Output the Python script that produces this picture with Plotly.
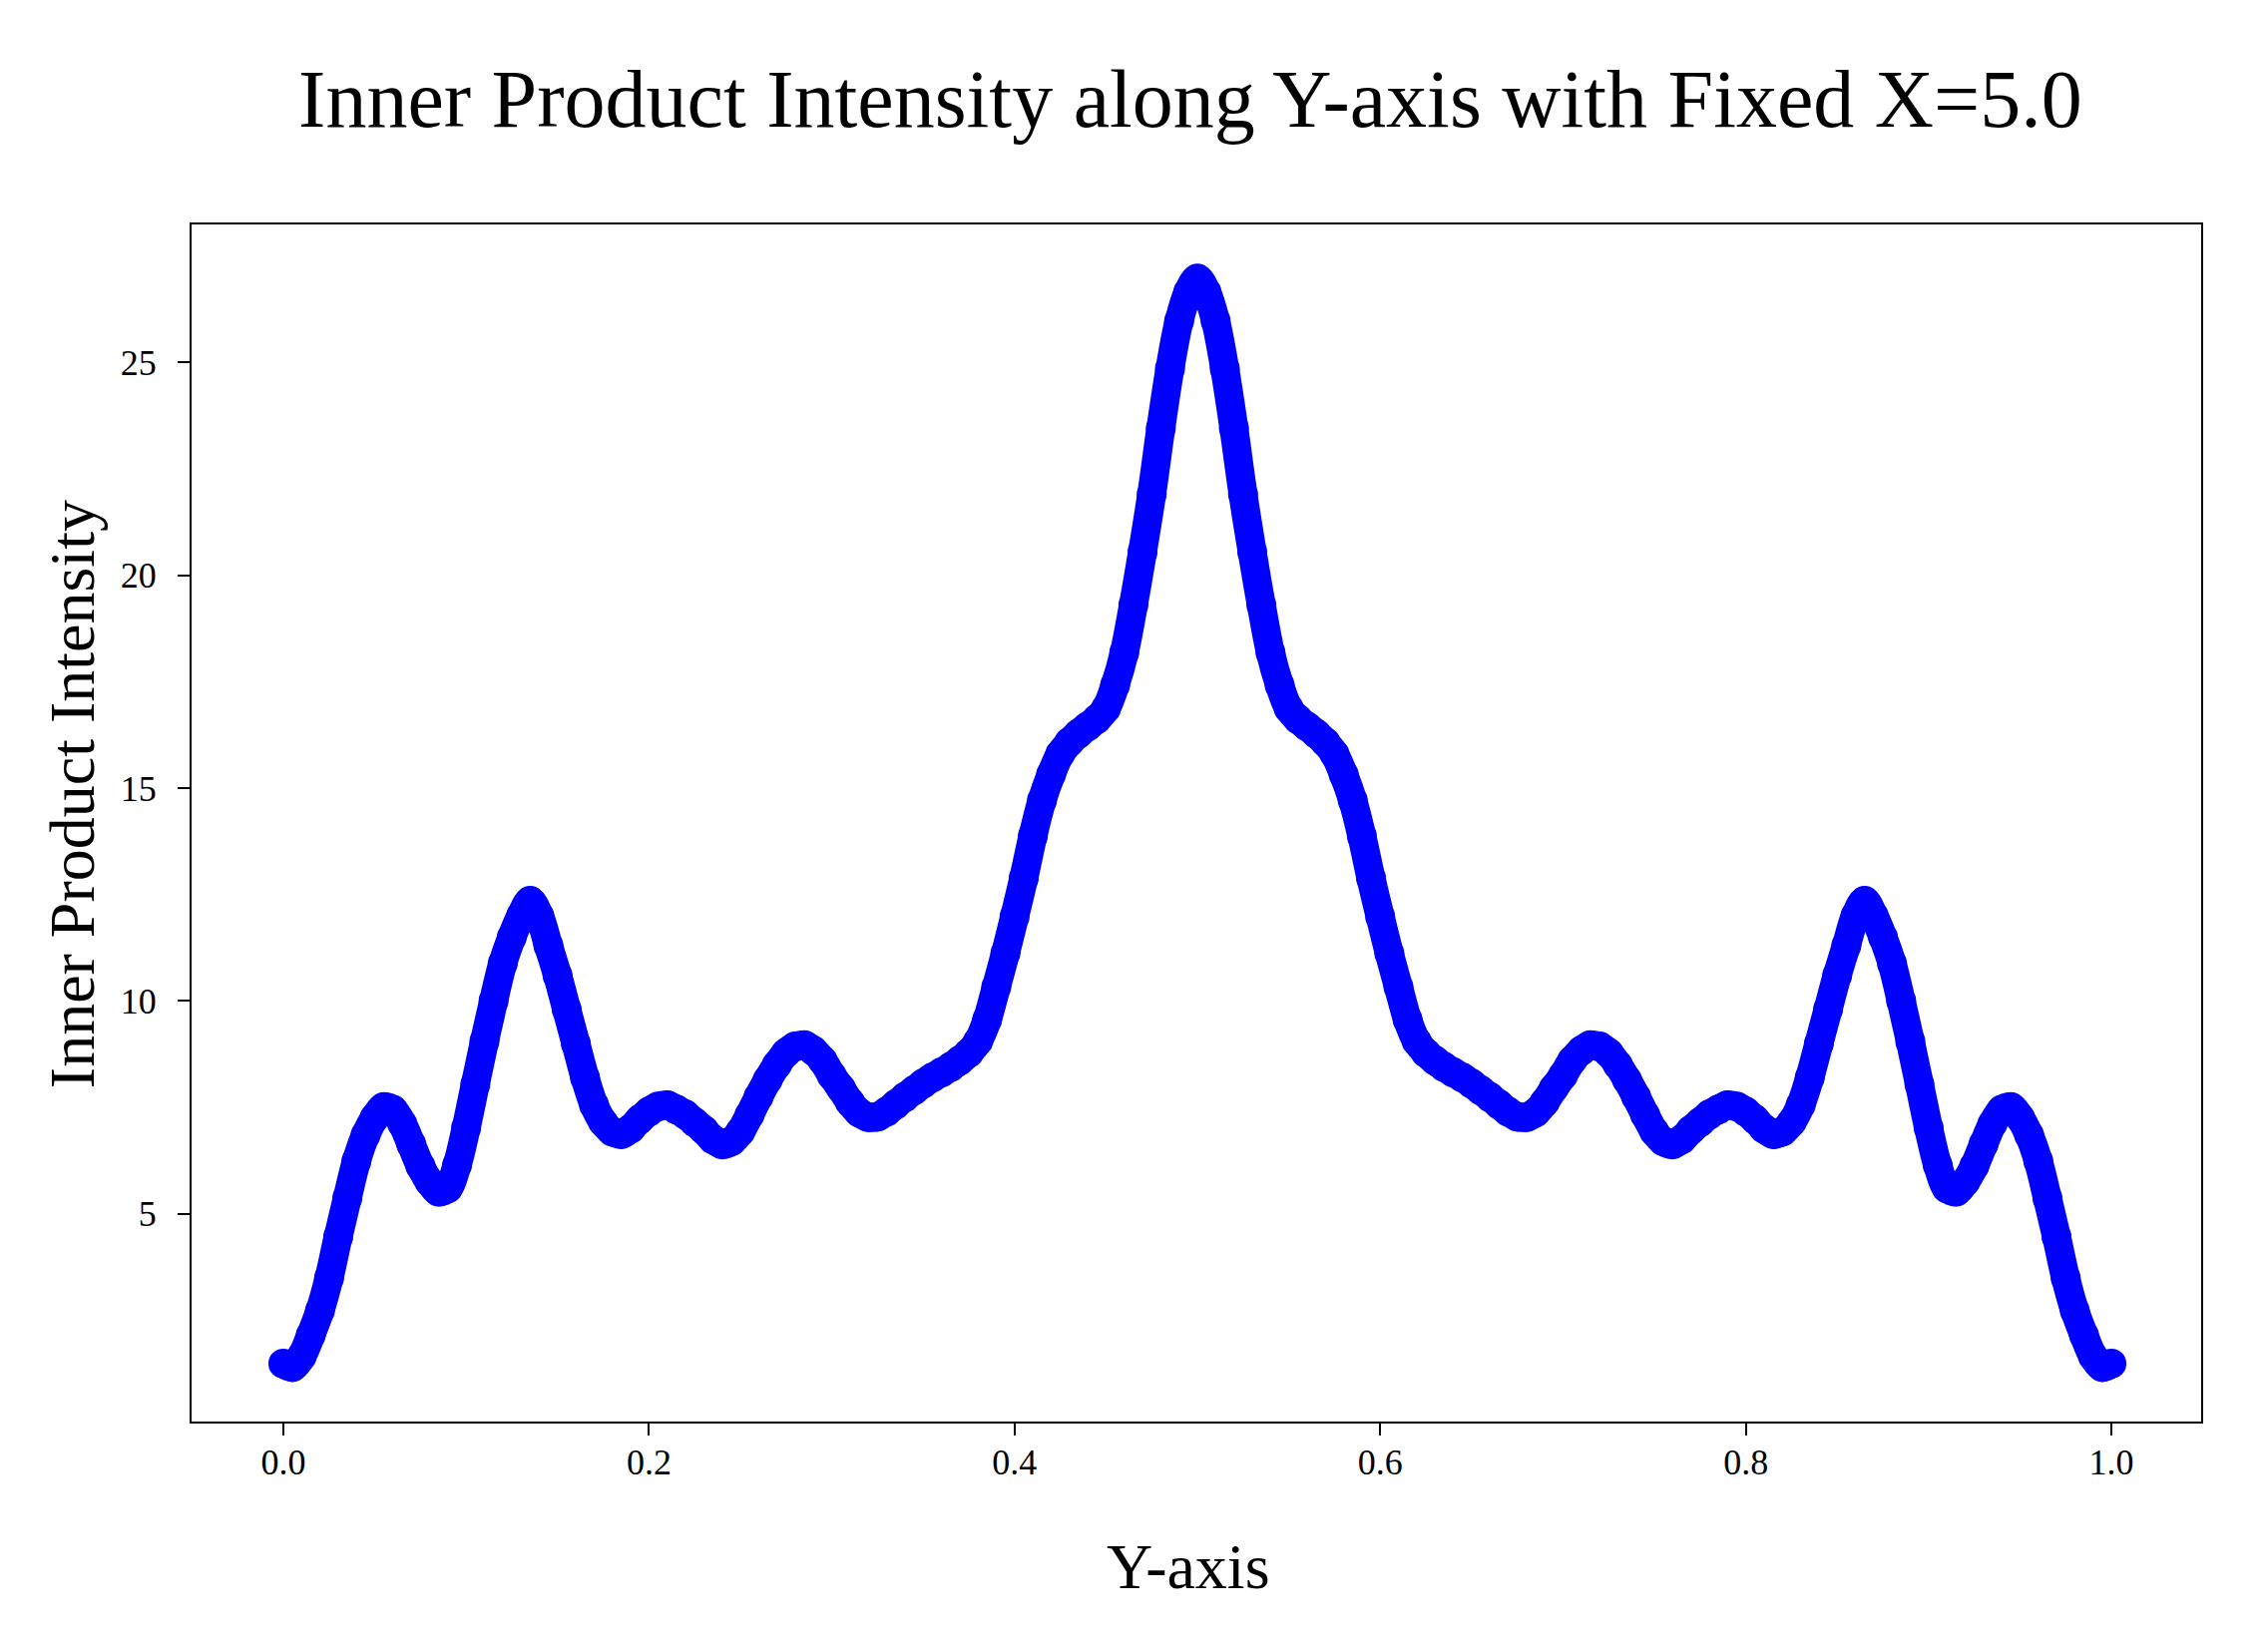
import plotly.graph_objs as pg

# posiciones a lo largo del eje Y (paso de 0.005)
y_positions = [round(i * 0.005, 3) for i in range(201)]

# intensidad, de 0.0 a 0.5
intensity_left = [
    1.48, 1.40, 1.65, 2.15, 2.72, 3.49, 4.46, 5.37, 6.24, 6.85,
    7.26, 7.51, 7.44, 7.12, 6.63, 6.12, 5.75, 5.52, 5.60, 6.14,
    7.02, 8.04, 9.05, 10.0, 10.88, 11.5, 12.0, 12.35, 12.0, 11.3,
    10.6, 9.8, 9.0, 8.2, 7.55, 7.15, 6.93, 6.87, 7.00, 7.22,
    7.40, 7.52, 7.55, 7.45, 7.33, 7.15, 6.97, 6.75, 6.63, 6.70,
    6.93, 7.32, 7.75, 8.15, 8.50, 8.78, 8.93, 8.96, 8.83, 8.60,
    8.25, 7.95, 7.62, 7.38, 7.27, 7.28, 7.40, 7.57, 7.74, 7.90,
    8.06, 8.20, 8.32, 8.45, 8.60, 8.78, 9.05, 9.56, 10.33, 11.12,
    11.98, 12.88, 13.87, 14.71, 15.32, 15.80, 16.08, 16.28, 16.45, 16.62,
    16.87, 17.42, 18.18, 19.30, 20.55, 21.90, 23.45, 24.85, 25.97, 26.65,
    26.97,
]

# intensidad de 0.505 a 1.0
intensity_right = [
    26.65, 25.97, 24.85, 23.45, 21.90, 20.55, 19.30, 18.18, 17.42, 16.87,
    16.62, 16.45, 16.28, 16.08, 15.80, 15.32, 14.71, 13.87, 12.88, 11.98,
    11.12, 10.33, 9.56, 9.05, 8.78, 8.60, 8.45, 8.32, 8.20, 8.06,
    7.90, 7.74, 7.57, 7.40, 7.28, 7.27, 7.38, 7.62, 7.95, 8.25,
    8.60, 8.83, 8.96, 8.93, 8.78, 8.50, 8.15, 7.75, 7.32, 6.93,
    6.70, 6.63, 6.75, 6.97, 7.15, 7.33, 7.45, 7.55, 7.52, 7.40,
    7.22, 7.00, 6.87, 6.93, 7.15, 7.55, 8.2, 9.0, 9.8, 10.6,
    11.3, 12.0, 12.35, 12.0, 11.5, 10.88, 10.0, 9.05, 8.04, 7.02,
    6.14, 5.60, 5.52, 5.75, 6.12, 6.63, 7.12, 7.44, 7.51, 7.26,
    6.85, 6.24, 5.37, 4.46, 3.49, 2.72, 2.15, 1.65, 1.40, 1.48,
]

intensity = intensity_left + intensity_right

x_ticks = [0.0, 0.2, 0.4, 0.6, 0.8, 1.0]
x_tick_labels = ['0.0', '0.2', '0.4', '0.6', '0.8', '1.0']
y_ticks = [5, 10, 15, 20, 25]
y_tick_labels = ['5', '10', '15', '20', '25']

FONT = 'Liberation Serif, Times New Roman, serif'

fig = pg.Figure()
fig.add_trace(pg.Scatter(x=y_positions, y=intensity,
                         mode='lines+markers',
                         line=dict(color='#0000ff', width=29, shape='spline'),
                         marker=dict(color='#0000ff', size=30),
                         showlegend=False))

# la pagina html deja 8px de margen en el body
fig.update_layout(
    width=2273, height=1650,
    margin=dict(l=184, r=75, t=217, b=233),
    plot_bgcolor='white', paper_bgcolor='white',
    font=dict(family=FONT, color='black'),
    title=dict(text='Inner Product Intensity along Y-axis with Fixed X=5.0',
               font=dict(family=FONT, size=82, color='black'),
               x=0.497, xref='paper', xanchor='center',
               y=1 - 90 / 1650, yref='container', yanchor='middle'),
    xaxis=dict(range=[-0.0502, 1.0491], tickvals=x_ticks, ticktext=x_tick_labels,
               showgrid=False, zeroline=False, showline=True, mirror=True,
               linecolor='black', linewidth=2, ticks='outside', ticklen=12,
               tickwidth=2, tickcolor='black', ticklabelstandoff=-4,
               tickfont=dict(family=FONT, size=36, color='black')),
    yaxis=dict(range=[0.12, 28.24], tickvals=y_ticks, ticktext=y_tick_labels,
               showgrid=False, zeroline=False, showline=True, mirror=True,
               linecolor='black', linewidth=2, ticks='outside', ticklen=12,
               tickwidth=2, tickcolor='black', ticklabelstandoff=14,
               tickfont=dict(family=FONT, size=36, color='black')),
    annotations=[
        dict(text='Y-axis', xref='paper', yref='paper', x=0.496, y=-0.121,
             xanchor='center', yanchor='middle', showarrow=False,
             font=dict(family=FONT, size=64, color='black')),
        dict(text='Inner Product Intensity', xref='paper', yref='paper',
             x=-0.0596, y=0.524, xanchor='center', yanchor='middle',
             textangle=-90, showarrow=False,
             font=dict(family=FONT, size=64, color='black')),
    ],
)

fig.write_html('out.html', config={'displayModeBar': False})
